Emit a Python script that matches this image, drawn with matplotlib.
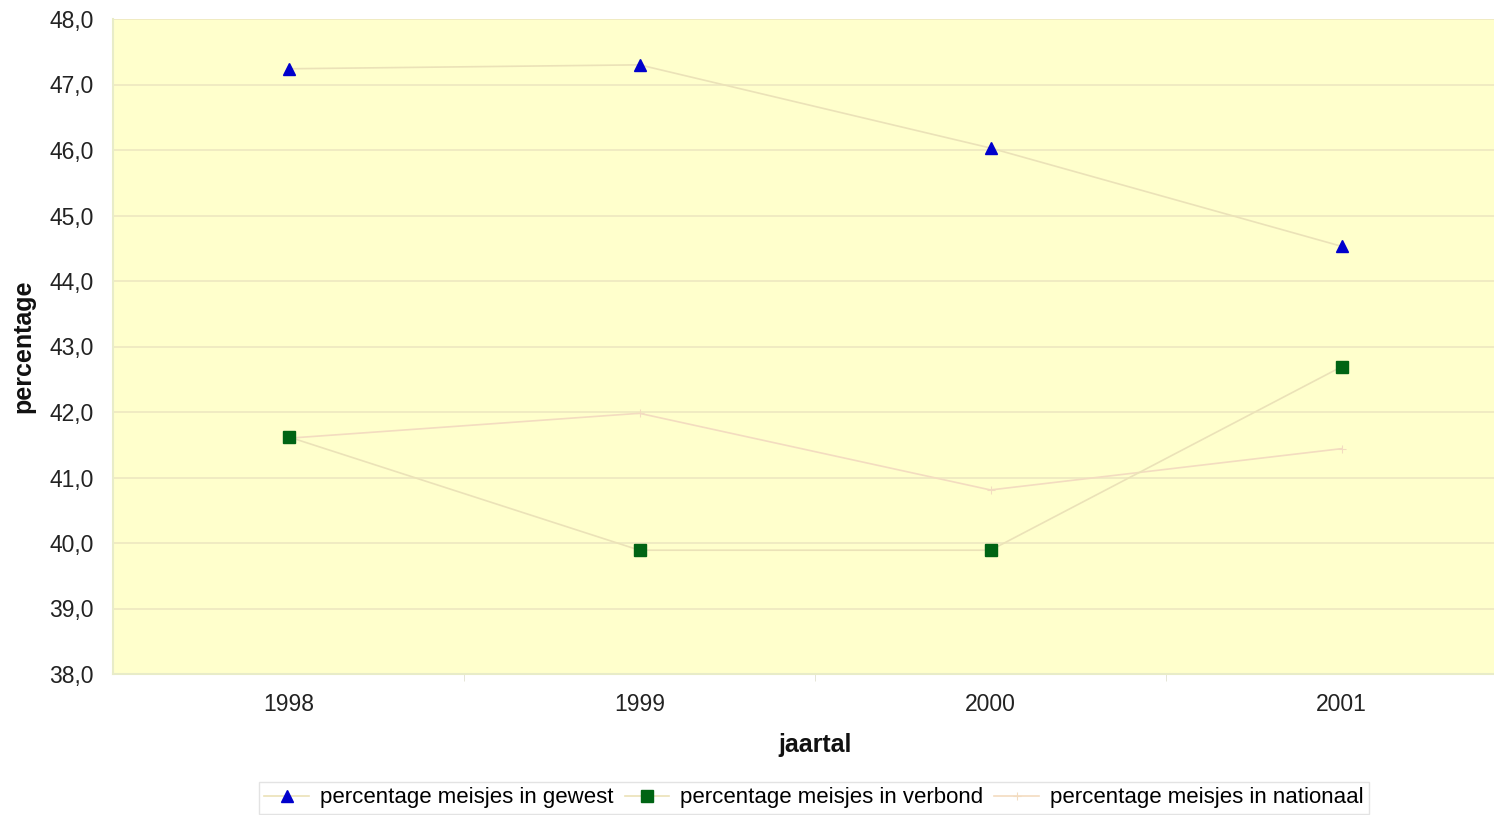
import matplotlib.pyplot as plt
from matplotlib.ticker import FuncFormatter

plt.rcParams['font.family'] = ['Liberation Sans', 'DejaVu Sans']

jaren = ['1998', '1999', '2000', '2001']
gewest = [47.24, 47.30, 46.03, 44.53]
verbond = [41.62, 39.89, 39.89, 42.69]
nationaal = [41.60, 41.98, 40.81, 41.44]

fig = plt.figure(figsize=(14.94, 8.15), dpi=100)
# rechterrand loopt door tot buiten de figuur
ax = fig.add_axes([113 / 1494, 1 - 674 / 815, (1517 - 113) / 1494, (674 - 19) / 815])
ax.set_facecolor('#ffffcc')

x = range(len(jaren))
lijn = '#ebe2b8'
ax.plot(x, gewest, color=lijn, lw=1.2, marker='^', ms=9, mfc='#0000cc', mec='#0000cc',
        zorder=3, label='percentage meisjes in gewest')
ax.plot(x, verbond, color=lijn, lw=1.2, marker='s', ms=8, mfc='#006414', mec='#006414',
        zorder=3, label='percentage meisjes in verbond')
ax.plot(x, nationaal, color='#f3dcc0', lw=1.2, marker='+', ms=6, mew=0.8, zorder=2,
        label='percentage meisjes in nationaal')

ax.set_ylim(38, 48)
ax.set_xlim(-0.5, 3.5)
ax.set_yticks(range(38, 49))
ax.yaxis.set_major_formatter(FuncFormatter(lambda v, p: f'{v:.1f}'.replace('.', ',')))
ax.set_xticks(list(x))
ax.set_xticklabels(jaren)
ax.set_xticks([0.5, 1.5, 2.5], minor=True)
ax.tick_params(axis='x', which='major', length=0, pad=14, labelsize=16.5, colors='#222222')
ax.tick_params(axis='x', which='minor', length=5, color='#e0e0d0')
ax.tick_params(axis='y', length=0, pad=14, labelsize=16.5, colors='#222222')
ax.grid(axis='y', color='#ece6c0', lw=1.1)
ax.set_axisbelow(True)
for s in ['top', 'right']:
    ax.spines[s].set_visible(False)
ax.spines['left'].set_color('#e8ecc8')
ax.spines['bottom'].set_color('#e8ecc8')
ax.spines['left'].set_linewidth(1.5)
ax.spines['bottom'].set_linewidth(1.5)

ax.set_xlabel('jaartal', fontsize=18, fontweight='bold', labelpad=12, color='#111111')
ax.set_ylabel('percentage', fontsize=18, fontweight='bold', labelpad=10, color='#111111')

leg = fig.legend(loc='center', bbox_to_anchor=(814 / 1494, 1 - 798 / 815), ncol=3,
                 fontsize=16, frameon=True, fancybox=False, edgecolor='#dddddd',
                 handlelength=2.0, handletextpad=0.5, columnspacing=0.5, borderpad=0.25)
leg.get_frame().set_linewidth(1.0)

fig.savefig('out.png', dpi=100)
